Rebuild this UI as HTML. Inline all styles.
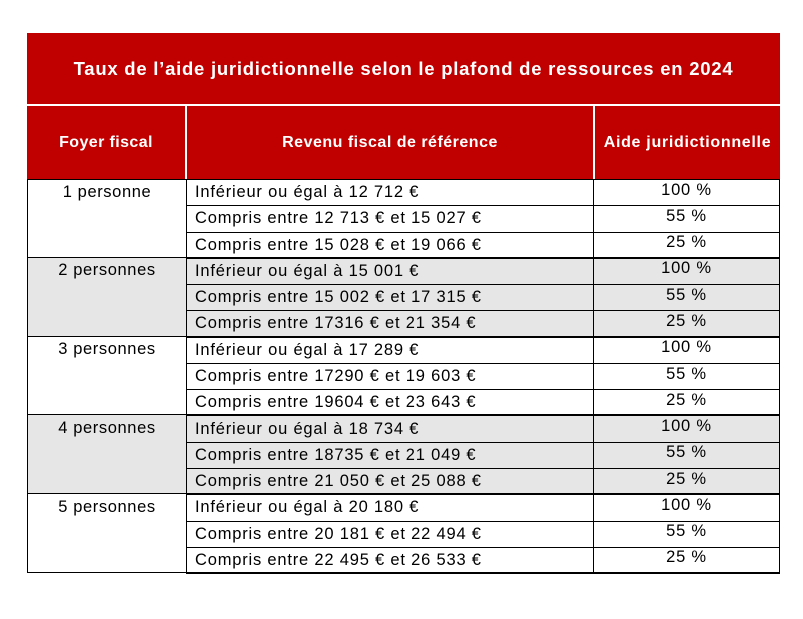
<!DOCTYPE html>
<html><head><meta charset="utf-8"><style>
body{margin:0;width:803px;height:619px;background:#fff;position:relative;font-family:"Liberation Sans",Arial,sans-serif;overflow:hidden}
div{position:absolute;box-sizing:border-box}
.r{background:#C00000;color:#fff;font-weight:bold;display:flex;align-items:center;justify-content:center;text-align:center}
.c{display:flex;align-items:center;font-size:16.5px;letter-spacing:0.8px;color:#000;white-space:nowrap}
</style></head><body>
<div class="r" style="left:27px;top:33px;width:753px;height:72px;font-size:18.5px;letter-spacing:0.75px;border-bottom:1px solid #fff">Taux de l’aide juridictionnelle selon le plafond de ressources en 2024</div>
<div class="r" style="left:27px;top:106px;width:159px;height:73px;font-size:16px;letter-spacing:0.4px;border-right:1px solid #fff">Foyer fiscal</div>
<div class="r" style="left:187px;top:106px;width:407px;height:73px;font-size:16px;letter-spacing:0.5px;border-right:1px solid #fff">Revenu fiscal de référence</div>
<div class="r" style="left:595px;top:106px;width:185px;height:73px;font-size:16px;letter-spacing:0.7px">Aide juridictionnelle</div>
<div id="t"></div>
<script>
var g=[["1 personne",["Inférieur ou égal à 12 712 €","Compris entre 12 713 € et 15 027 €","Compris entre 15 028 € et 19 066 €"]],
["2 personnes",["Inférieur ou égal à 15 001 €","Compris entre 15 002 € et 17 315 €","Compris entre 17316 € et 21 354 €"]],
["3 personnes",["Inférieur ou égal à 17 289 €","Compris entre 17290 € et 19 603 €","Compris entre 19604 € et 23 643 €"]],
["4 personnes",["Inférieur ou égal à 18 734 €","Compris entre 18735 € et 21 049 €","Compris entre 21 050 € et 25 088 €"]],
["5 personnes",["Inférieur ou égal à 20 180 €","Compris entre 20 181 € et 22 494 €","Compris entre 22 495 € et 26 533 €"]]];
var p=["100 %","55 %","25 %"],h="",H=26.27;
g.forEach(function(x,i){var y0=179+i*3*H,bg=i%2?"#E6E6E6":"#fff";
h+='<div style="left:27px;top:'+y0+'px;width:753px;height:'+(3*H)+'px;background:'+bg+';border:1px solid #000;border-top:'+(i?0:1)+'px solid #000"></div>';
h+='<div class="c" style="left:27px;top:'+y0+'px;width:160px;height:'+H+'px;justify-content:center;letter-spacing:0.6px">'+x[0]+'</div>';
x[1].forEach(function(t,j){var y=y0+j*H;
h+='<div class="c" style="left:186px;top:'+y+'px;width:408px;height:'+(H+1)+'px;border:1px solid #000;padding-left:8px">'+t+'</div>';
h+='<div class="c" style="left:593px;top:'+y+'px;width:187px;height:'+(H+1)+'px;border:1px solid #000;justify-content:center;padding-bottom:5px">'+p[j]+'</div>';});});
document.getElementById("t").innerHTML=h;
</script>
</body></html>
